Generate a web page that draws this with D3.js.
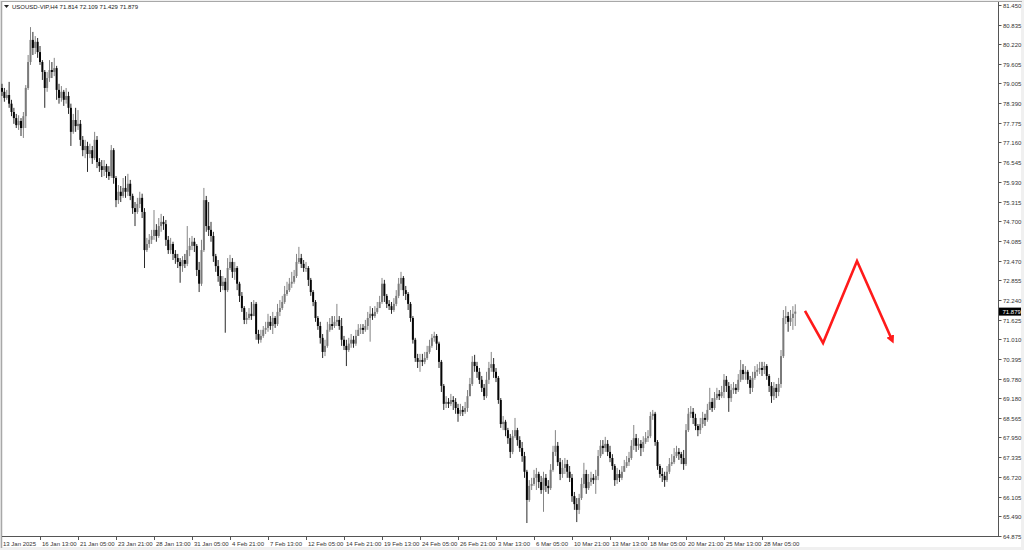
<!DOCTYPE html>
<html><head><meta charset="utf-8">
<script src="https://cdn.jsdelivr.net/npm/d3@7"></script>
<style>
html,body{margin:0;padding:0;background:#fff;overflow:hidden}
svg{display:block}
text{font-family:"Liberation Sans",Arial,sans-serif;}
</style>
</head><body>
<svg id="c" width="1024" height="550"></svg>
<script>
// ---------------- DATA ----------------
const symbolTitle = "USOUSD-VIP,H4";
const lastQuote = [71.814, 72.109, 71.429, 71.879]; // O H L C of the last bar
const firstOpen = 78.86;

const closes = [
78.74,78.55,78.64,78.37,78.11,77.92,77.70,77.83,77.61,77.98,78.86,79.67,80.36,80.11,80.30,79.98,
79.67,79.36,78.86,79.17,79.42,79.36,79.48,78.80,78.55,78.74,78.49,78.61,78.24,77.49,77.86,77.67,
77.74,77.24,76.92,77.05,76.80,76.92,76.67,77.24,76.55,76.42,76.30,76.42,76.24,76.11,76.92,76.05,
75.36,75.62,75.49,75.74,75.62,75.87,75.49,75.11,74.99,75.24,75.43,74.99,73.80,73.99,74.12,74.24,
74.43,74.24,74.55,74.68,74.61,74.12,73.80,73.99,73.68,73.55,73.43,73.30,73.49,73.37,73.80,73.93,
74.06,73.93,73.18,72.75,73.80,75.36,74.55,74.43,74.24,73.61,73.30,72.99,72.68,72.81,72.55,73.24,
73.43,73.12,73.24,72.75,72.37,71.99,71.62,71.68,71.81,71.74,72.12,71.18,71.00,71.12,71.31,71.37,
71.56,71.43,71.68,71.49,71.87,71.99,72.18,72.43,72.55,72.75,72.81,72.99,73.43,73.55,73.37,73.24,
73.24,72.87,72.49,72.18,71.68,71.43,71.06,70.62,70.81,71.31,71.49,71.43,71.56,71.62,71.43,71.00,
70.81,70.68,70.88,71.00,70.88,71.12,71.31,71.37,71.31,71.43,71.68,71.81,71.74,71.87,71.99,72.18,
72.75,72.37,72.12,72.05,71.93,72.12,72.37,72.75,72.93,72.55,72.43,72.12,71.68,71.00,70.43,70.31,
70.37,70.31,70.43,70.62,70.81,71.06,71.12,70.88,70.31,69.56,69.00,69.06,69.00,69.12,69.06,68.87,
68.69,68.81,68.75,68.87,69.24,69.62,70.31,70.18,70.00,69.75,69.50,69.24,69.75,70.12,70.24,70.00,
69.81,69.12,68.37,68.44,68.18,67.93,67.50,67.99,68.18,67.87,67.62,67.37,66.88,66.00,66.44,66.50,
66.69,66.81,66.56,66.31,66.69,66.44,66.37,66.94,67.50,67.69,67.18,66.81,67.00,67.12,66.88,66.69,
66.12,65.87,65.69,66.06,66.50,66.81,66.37,66.56,66.69,66.62,66.75,67.37,67.69,67.62,67.75,67.50,
67.31,67.06,66.62,66.81,66.69,66.88,67.06,67.18,67.31,67.69,67.93,67.69,67.75,67.62,67.81,67.93,
67.99,68.62,68.69,67.81,67.06,66.81,66.75,66.62,66.88,67.12,67.18,67.37,67.50,67.43,67.31,67.12,
68.18,68.69,68.75,68.56,68.31,68.18,68.37,68.56,68.50,68.81,69.06,68.87,69.18,69.31,69.24,69.37,
69.75,69.56,69.18,69.43,69.50,69.43,69.75,70.06,69.93,70.00,69.75,69.50,69.81,70.00,70.06,70.12,
70.06,70.18,69.87,69.56,69.24,69.50,69.37,69.62,70.49,71.68,71.74,71.56,71.68,71.81,71.879
];
const highs = [
78.99,78.86,78.80,79.05,78.49,78.24,78.05,78.01,77.92,78.11,78.95,79.89,80.76,80.61,80.48,80.42,
80.17,79.73,79.42,79.36,79.73,79.67,79.80,79.55,78.99,78.92,78.80,78.86,78.74,78.37,78.05,78.24,
78.17,77.86,77.36,77.24,77.18,77.12,77.05,77.49,77.36,76.67,76.61,76.61,76.49,76.42,77.08,76.98,
76.11,75.83,75.80,76.05,76.11,76.18,75.99,75.56,75.30,75.43,75.62,75.56,75.11,74.18,74.30,74.43,
75.05,74.61,74.80,74.93,74.86,74.74,74.24,74.18,74.06,73.80,73.68,73.55,73.61,73.68,74.55,74.18,
74.24,74.18,73.99,73.43,74.12,75.74,75.49,75.30,74.68,74.37,73.68,73.49,73.18,72.99,72.93,73.55,
73.65,73.55,73.43,73.30,72.81,72.49,72.05,71.87,71.99,72.18,72.24,72.18,71.31,71.31,71.43,71.56,
71.81,71.74,71.87,71.74,72.12,72.24,72.37,72.68,72.81,72.93,73.12,73.18,73.68,73.90,73.68,73.49,
73.43,73.30,72.93,72.55,72.24,71.74,71.56,71.18,71.00,71.56,71.68,71.74,71.74,72.12,71.74,71.68,
71.12,71.00,71.06,71.18,71.12,71.31,71.49,71.49,71.49,71.62,71.87,72.05,71.99,72.05,72.18,72.37,
72.93,72.87,72.43,72.24,72.18,72.30,72.55,72.93,73.12,72.99,72.68,72.49,72.18,71.74,71.06,70.56,
70.56,70.56,70.62,70.81,71.00,71.18,71.25,71.18,70.94,70.37,69.62,69.24,69.18,69.31,69.24,69.18,
69.00,69.00,68.93,69.06,69.43,69.81,70.49,70.53,70.31,70.12,69.87,69.62,70.00,70.31,70.62,70.43,
70.12,69.87,69.18,68.62,68.50,68.25,68.06,68.18,68.56,68.25,67.99,67.81,67.50,66.94,66.62,66.69,
66.94,67.00,66.88,66.75,66.88,66.81,66.62,67.12,67.69,68.18,67.81,67.31,67.25,67.31,67.25,67.06,
66.81,66.25,66.06,66.19,66.69,67.16,66.94,66.81,66.88,66.81,66.94,67.56,67.87,67.87,67.97,67.87,
67.69,67.43,67.12,67.00,66.94,67.06,67.25,67.37,67.50,67.87,68.34,68.06,67.93,67.87,67.99,68.12,
68.18,68.75,68.81,68.75,67.87,67.12,67.00,66.88,67.06,67.31,67.43,67.62,67.69,67.62,67.50,67.56,
68.37,68.87,68.93,68.87,68.69,68.37,68.56,68.75,68.69,69.00,69.50,69.18,69.37,69.50,69.43,69.56,
69.93,69.87,69.68,69.62,69.68,69.62,69.93,70.37,70.24,70.18,70.06,69.87,70.00,70.18,70.24,70.31,
70.31,70.31,70.24,69.93,69.68,69.68,69.62,69.81,70.68,71.93,72.05,71.87,71.93,72.05,72.109
];
const lows = [
78.61,78.43,78.49,78.24,77.98,77.74,77.61,77.55,77.36,77.30,77.61,78.80,79.58,79.89,79.92,79.80,
79.58,79.11,78.24,78.74,79.05,79.17,79.23,78.49,78.37,78.43,78.30,78.37,78.05,77.05,77.43,77.49,
77.55,77.05,76.73,76.67,76.24,76.67,76.49,76.61,76.36,76.24,76.08,76.11,76.05,75.99,76.05,75.87,
75.14,75.24,75.30,75.43,75.43,75.49,75.36,74.93,74.55,74.93,75.11,74.80,73.24,73.74,73.87,73.99,
74.12,74.06,74.18,74.37,74.43,73.93,73.68,73.68,73.49,73.37,73.24,72.78,73.12,73.24,73.30,73.61,
73.80,73.74,72.99,72.49,72.68,73.74,74.37,74.24,74.06,73.43,73.12,72.81,72.49,72.55,71.22,72.49,
73.18,72.93,72.87,72.55,72.18,71.87,71.49,71.49,71.62,71.62,71.74,71.00,70.88,70.91,71.06,71.18,
71.25,71.31,71.18,71.37,71.43,71.74,71.93,72.12,72.37,72.49,72.62,72.75,72.93,73.37,73.24,73.12,
73.12,72.68,72.37,72.05,71.56,71.31,70.88,70.43,70.49,70.75,71.25,71.31,71.37,71.43,71.31,70.81,
70.68,70.18,70.62,70.75,70.75,70.81,71.12,71.18,71.18,71.25,71.31,70.94,71.62,71.68,71.81,71.99,
72.12,72.18,71.99,71.93,71.81,71.87,72.05,72.30,72.55,72.37,72.24,71.93,71.56,70.88,70.31,70.12,
70.00,70.18,70.24,70.37,70.56,70.75,70.94,70.68,70.12,69.37,68.81,68.87,68.87,68.93,68.81,68.69,
68.44,68.62,68.62,68.69,68.75,69.24,69.56,70.00,69.81,69.62,69.37,69.12,69.18,69.62,70.00,69.81,
69.68,69.00,68.25,68.18,67.99,67.75,67.31,67.43,67.93,67.69,67.50,67.19,66.69,65.28,65.94,66.31,
66.44,66.31,66.37,66.19,65.63,66.25,66.19,66.31,66.88,67.37,67.06,66.62,66.69,66.81,66.69,66.56,
65.94,65.69,65.31,65.56,66.00,66.37,66.19,66.31,66.44,66.50,66.19,66.62,67.31,67.43,67.50,67.37,
67.18,66.94,66.44,66.50,66.56,66.62,66.88,67.00,67.06,67.25,67.56,67.50,67.56,67.37,67.50,67.75,
67.81,67.93,68.50,67.69,66.94,66.69,66.56,66.41,66.56,66.81,67.06,67.12,67.31,67.25,67.12,66.94,
67.06,68.12,68.56,68.37,68.18,67.99,68.06,68.25,68.31,68.44,68.81,68.75,68.81,69.12,69.12,69.18,
69.18,69.37,68.75,69.06,69.31,69.31,69.37,69.68,69.75,69.75,69.62,69.31,69.37,69.75,69.87,69.93,
69.87,69.93,69.75,69.37,69.03,69.12,69.18,69.24,69.50,70.43,71.49,71.25,71.43,71.31,71.429
];

const priceTicks = [81.450,80.835,80.220,79.605,79.005,78.390,77.775,77.160,76.545,75.930,75.315,74.700,
  74.085,73.470,72.855,72.240,71.625,71.010,70.395,69.780,69.180,68.565,67.950,67.335,66.720,66.105,65.490,64.875];
const priceTickLabels = ["81.450","80.835","80.220","79.605","79.005","78.390","77.775","77.160","76.545","75.930",
  "75.315","74.700","74.085","73.470","72.855","72.240","71.625","71.010","70.395","69.780","69.180","68.565",
  "67.950","67.335","66.720","66.105","65.490","64.875"];
const timeLabels = ["13 Jan 2025","16 Jan 13:00","21 Jan 05:00","23 Jan 21:00","28 Jan 13:00","31 Jan 05:00",
  "4 Feb 21:00","7 Feb 13:00","12 Feb 05:00","14 Feb 21:00","19 Feb 13:00","24 Feb 05:00","26 Feb 21:00",
  "3 Mar 13:00","6 Mar 05:00","10 Mar 21:00","13 Mar 13:00","18 Mar 05:00","20 Mar 21:00","25 Mar 13:00","28 Mar 05:00"];
const timeLabelBars = [0,16,32,48,64,80,96,112,128,144,160,176,192,208,224,240,256,272,288,304,320];

// projected path (bar index, price)
const forecastBars = [338.1, 345.7, 360.0, 374.7];
const forecastPrices = [71.90, 70.90, 73.46, 71.00];

// ---------------- CHART ----------------
const W = 1024, H = 550;
const svg = d3.select("#c");
const nBars = closes.length;

const x = d3.scaleLinear().domain([0, nBars - 1]).range([2, 2 + (nBars - 1) * 2.375]);
const y = d3.scaleLinear().domain([64.875, 81.45]).range([536, 5]);

// background / frame
svg.append("rect").attr("x",0).attr("y",0).attr("width",W).attr("height",H).attr("fill","#f0f0f0");
svg.append("rect").attr("x",2).attr("y",2).attr("width",1019).attr("height",545).attr("fill","#ffffff");
svg.append("line").attr("x1",1.5).attr("x2",1.5).attr("y1",1).attr("y2",548).attr("stroke","#a8a8a8").attr("stroke-width",1.5);
svg.append("line").attr("x1",1).attr("x2",1022).attr("y1",1.5).attr("y2",1.5).attr("stroke","#a8a8a8").attr("stroke-width",1);

// axes lines
svg.append("line").attr("x1",998.5).attr("x2",998.5).attr("y1",2).attr("y2",537).attr("stroke","#555").attr("stroke-width",1);
svg.append("line").attr("x1",2).attr("x2",998.5).attr("y1",536.5).attr("y2",536.5).attr("stroke","#555").attr("stroke-width",1);

// y ticks
const yt = svg.append("g");
priceTicks.forEach((v, k) => {
  const yy = Math.round(y(v)) + 0.5;
  yt.append("line").attr("x1",998.5).attr("x2",1001.5).attr("y1",yy).attr("y2",yy).attr("stroke","#555");
  yt.append("text").attr("x",1003).attr("y",yy).attr("dy","0.35em")
    .attr("font-size","6px").attr("fill","#333").text(priceTickLabels[k]);
});

// x ticks
const xt = svg.append("g");
timeLabels.forEach((lab, k) => {
  const b = timeLabelBars[k];
  const xx = k === 0 ? 2 : Math.round(x(b)) + 0.5;
  if (k > 0) xt.append("line").attr("x1",xx).attr("x2",xx).attr("y1",537).attr("y2",540).attr("stroke","#555");
  xt.append("text").attr("x", k === 0 ? 3 : xx + 1.5).attr("y",545.5)
    .attr("font-size","6px").attr("fill","#333").text(lab);
});

// candles
const opens = closes.map((c, i) => i === 0 ? firstOpen : closes[i - 1]);
opens[nBars - 1] = lastQuote[0];
const cg = svg.append("g");
for (let i = 0; i < nBars; i++) {
  const o = opens[i], c = closes[i];
  const h = Math.max(highs[i], o, c), l = Math.min(lows[i], o, c);
  const bull = c >= o;
  const col = bull ? "#7a7a7a" : "#050505";
  const xx = x(i);
  cg.append("line").attr("x1",xx).attr("x2",xx).attr("y1",y(h)).attr("y2",y(l))
    .attr("stroke", bull ? "#858585" : "#2a2a2a").attr("stroke-width",1);
  const top = y(Math.max(o, c)), bot = y(Math.min(o, c));
  cg.append("rect").attr("x",xx - 1).attr("y",top).attr("width",2)
    .attr("height",Math.max(0.8, bot - top)).attr("fill",col);
}

// title
svg.append("path").attr("d","M4,5 L9,5 L6.5,8 Z").attr("fill","#222");
svg.append("text").attr("x",12).attr("y",8.8).attr("font-size","6px").attr("fill","#222")
  .text(symbolTitle + "  " + lastQuote.map(v => v.toFixed(3)).join(" "));

// last price tag
const ly = y(lastQuote[3]);
svg.append("rect").attr("x",999).attr("y",ly - 4).attr("width",22).attr("height",8).attr("fill","#000");
svg.append("text").attr("x",1002.5).attr("y",ly).attr("dy","0.35em").attr("font-size","6px")
  .attr("fill","#fff").text(lastQuote[3].toFixed(3));

// forecast arrow
const defs = svg.append("defs");
defs.append("marker").attr("id","ah").attr("viewBox","0 0 10 10").attr("refX",5).attr("refY",5)
  .attr("markerWidth",3.2).attr("markerHeight",3.2).attr("orient","auto")
  .append("path").attr("d","M0,0 L10,5 L0,10 Z").attr("fill","#ff1a1a");
const fline = d3.line().x(d => x(d[0])).y(d => y(d[1]));
svg.append("path").datum(forecastBars.map((b, k) => [b, forecastPrices[k]]))
  .attr("d", fline).attr("fill","none").attr("stroke","#ff1a1a").attr("stroke-width",2.6)
  .attr("stroke-linejoin","miter").attr("marker-end","url(#ah)");
</script>
</body></html>
